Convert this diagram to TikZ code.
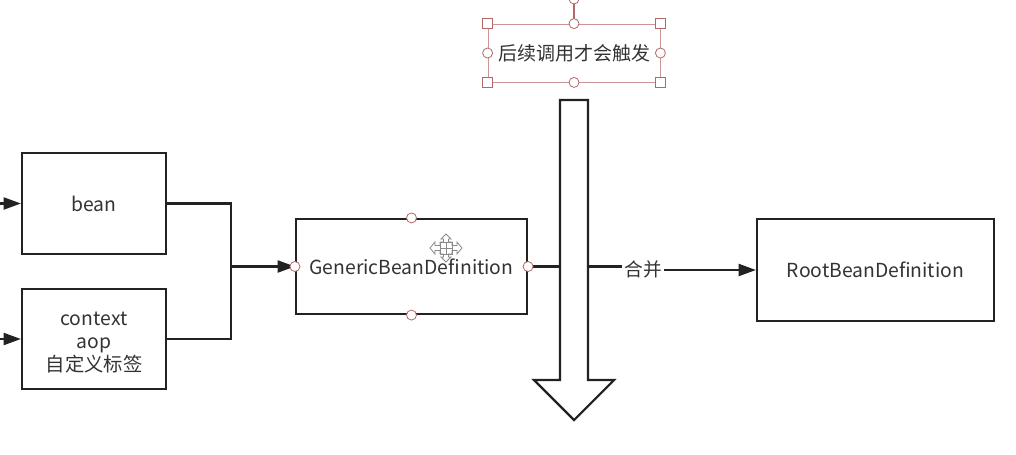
\documentclass[tikz,border=0pt]{standalone}
\usepackage{fontspec}
\newfontfamily\cjk{Noto Sans CJK SC}
\usetikzlibrary{arrows.meta}
\definecolor{linec}{HTML}{222222}
\definecolor{textc}{HTML}{333333}
\definecolor{handlec}{RGB}{176,104,104}
\definecolor{selc}{RGB}{205,150,150}
\definecolor{cursorc}{HTML}{8A8A8A}
\tikzset{
  box/.style={draw=linec, line width=1.6pt, fill=white, inner sep=0pt, text=textc, font=\cjk\fontsize{14.5}{17.25}\selectfont, align=center},
  txt/.style={inner sep=0pt, text=textc, font=\cjk\fontsize{14.5}{17.25}\selectfont, align=center},
  conn/.style={draw=linec, line width=1.6pt},
  arr/.style={conn, -{Triangle[length=13pt,width=9pt]}},
  hcirc/.style={circle, draw=handlec, fill=white, line width=0.6pt, minimum size=7.5pt, inner sep=0pt},
  hsq/.style={rectangle, draw=handlec, fill=white, line width=0.6pt, minimum size=7.5pt, inner sep=0pt},
  lbl/.style={fill=white, inner sep=1.5pt, text=textc, font=\cjk\fontsize{14}{16}\selectfont},
}
\begin{document}
\begin{tikzpicture}[x=0.75pt, y=-0.75pt]
\useasboundingbox (0,0) rectangle (1016,454);
\fill[white] (0,0) rectangle (1016,454);

% boxes
\node[box, minimum width={144*0.75pt}, minimum height={101*0.75pt}] (bean) at (94,203.5) {bean};
\node[box, minimum width={144*0.75pt}, minimum height={100*0.75pt}] (ctx) at (94,339) {};
\node[txt] (ctxlabel) at ([yshift=-2.5pt]ctx.center) {context\\aop\\自定义标签};
\node[box, minimum width={231*0.75pt}, minimum height={95*0.75pt}] (gen) at (411.5,266.5) {GenericBeanDefinition};
\node[box, minimum width={237*0.75pt}, minimum height={102*0.75pt}] (root) at (875.5,270) {RootBeanDefinition};

% incoming arrows
\coordinate (in1) at (0,203.5);
\coordinate (in2) at (0,339);
\draw[arr] (in1) -- (bean.west);
\draw[arr] (in2) -- (ctx.west);

% merge to generic
\coordinate (j) at (231,266.5);
\draw[conn] (bean.east) -| (j);
\draw[conn] (ctx.east) -| (j);
\draw[arr] (j) -- (gen.west);

% generic to root
\coordinate (m1) at (643,266.5);
\coordinate (m2) at (643,270);
\draw[arr] (gen.east) -- (m1) -- (m2) -- (root.west);
\node[lbl] (merge) at (643,269) {合并};

% big down arrow
\draw[conn, fill=white, line join=miter] (560,100) -- (588,100) -- (588,380) -- (614,380) -- (574,420) -- (534,380) -- (560,380) -- cycle;

% text label with selection handles
\node[draw=selc, line width=0.6pt, minimum width={172*0.75pt}, minimum height={58*0.75pt}, inner sep=0pt, text=textc, font=\cjk\fontsize{14.25}{16}\selectfont] (note) at (574,53) {后续调用才会触发};
\coordinate (rot) at (574,-1);
\draw[handlec, line width=1pt] (rot) -- (note.north);
\node[hcirc] at (rot) {};
\node[hsq] at (note.north west) {};
\node[hsq] at (note.north east) {};
\node[hsq] at (note.south west) {};
\node[hsq] at (note.south east) {};
\node[hcirc] at (note.north) {};
\node[hcirc] at (note.south) {};
\node[hcirc] at (note.west) {};
\node[hcirc] at (note.east) {};

% connection points of generic
\node[hcirc] at (gen.north) {};
\node[hcirc] at (gen.south) {};
\node[hcirc] at (gen.west) {};
\node[hcirc] at (gen.east) {};

% move cursor
\begin{scope}[shift={(446,248)}]
\draw[cursorc, line width=0.6pt, fill=white, fill opacity=0.6] (0,-14) -- (5,-9) -- (2.5,-9) -- (2.5,-6) -- (6,-6) -- (6,-2.5) -- (11,-2.5) -- (11,-6) -- (16,0) -- (11,6) -- (11,2.5) -- (6,2.5) -- (6,6) -- (2.5,6) -- (2.5,9) -- (5,9) -- (0,14) -- (-5,9) -- (-2.5,9) -- (-2.5,6) -- (-6,6) -- (-6,2.5) -- (-11,2.5) -- (-11,6) -- (-16,0) -- (-11,-6) -- (-11,-2.5) -- (-6,-2.5) -- (-6,-6) -- (-2.5,-6) -- (-2.5,-9) -- (-5,-9) -- cycle;
\draw[cursorc, line width=0.6pt] (-6,-6) rectangle (6,6) (0,-6) -- (0,6) (-6,0) -- (6,0);
\end{scope}
\end{tikzpicture}
\end{document}
